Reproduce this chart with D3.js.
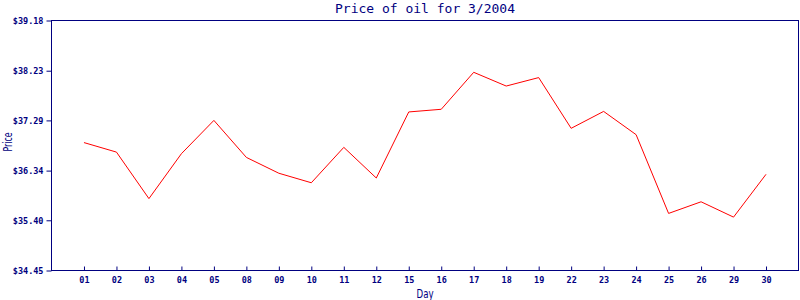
<!DOCTYPE html>
<html lang="en">
<head>
    <meta charset="UTF-8">
    <title>Price of oil</title>
    <script src="https://d3js.org/d3.v7.min.js"></script>
    <style>
        body { margin: 0; background: #fff; }
        svg { display: block; }
    </style>
</head>
<body>
<svg id="viz"></svg>

<script>
    // trading days of 3/2004 and closing price
    var days = ['01', '02', '03', '04', '05', '08', '09', '10', '11', '12', '15',
        '16', '17', '18', '19', '22', '23', '24', '25', '26', '29', '30'];
    var prices = [36.87, 36.69, 35.81, 36.66, 37.29, 36.59, 36.29, 36.11, 36.78, 36.20, 37.45,
        37.50, 38.20, 37.94, 38.10, 37.14, 37.46, 37.02, 35.53, 35.75, 35.46, 36.27];
    var yTicks = [34.45, 35.40, 36.34, 37.29, 38.23, 39.18];

    var width = 800, height = 300;
    // plot box (note: "top" is reserved on window, so use other names)
    var plotL = 51.5, plotR = 798.5, plotT = 20.5, plotB = 270.5;
    var navy = '#000080';

    var svg = d3.select('#viz')
        .attr('width', width)
        .attr('height', height);

    var x = d3.scalePoint()
        .domain(days)
        .range([plotL, plotR])
        .padding(1);

    var y = d3.scaleLinear()
        .domain([yTicks[0], yTicks[yTicks.length - 1]])
        .range([plotB, plotT]);

    // frame
    svg.append('rect')
        .attr('x', plotL)
        .attr('y', plotT)
        .attr('width', plotR - plotL)
        .attr('height', plotB - plotT)
        .attr('fill', 'none')
        .attr('stroke', navy)
        .attr('stroke-width', 1);

    // y axis, ticks outward
    var yAxis = svg.append('g')
        .attr('transform', 'translate(' + plotL + ',0)')
        .call(d3.axisLeft(y).tickValues(yTicks).tickSize(5).tickPadding(3)
            .tickFormat(function (d) { return '$' + d.toFixed(2); }));

    // x axis, ticks inward
    var xAxis = svg.append('g')
        .attr('transform', 'translate(0,' + plotB + ')')
        .call(d3.axisBottom(x).tickSize(-4).tickPadding(6));

    [yAxis, xAxis].forEach(function (g) {
        g.select('.domain').remove();
        g.selectAll('line').attr('stroke', navy);
        g.selectAll('text')
            .attr('fill', navy)
            .style('font-family', '"DejaVu Sans Mono", monospace')
            .style('font-size', '8.5px')
            .style('font-weight', 'bold');
    });
    xAxis.selectAll('text').attr('dy', '0.71em');

    var line = d3.line()
        .x(function (d, i) { return x(days[i]); })
        .y(function (d) { return y(d); });

    svg.append('path')
        .datum(prices)
        .attr('d', line)
        .attr('fill', 'none')
        .attr('stroke', '#ff0000')
        .attr('stroke-width', 1);

    svg.append('text')
        .attr('x', (plotL + plotR) / 2)
        .attr('y', 13)
        .attr('text-anchor', 'middle')
        .attr('fill', navy)
        .style('font-family', '"DejaVu Sans Mono", monospace')
        .style('font-size', '13px')
        .text('Price of oil for 3/2004');

    svg.append('text')
        .attr('x', (plotL + plotR) / 2)
        .attr('y', 298)
        .attr('text-anchor', 'middle')
        .attr('fill', navy)
        .attr('textLength', 17)
        .attr('lengthAdjust', 'spacingAndGlyphs')
        .style('font-family', '"DejaVu Sans", sans-serif')
        .style('font-size', '12px')
        .text('Day');

    svg.append('text')
        .attr('transform', 'translate(12,142) rotate(-90)')
        .attr('text-anchor', 'middle')
        .attr('fill', navy)
        .attr('textLength', 19)
        .attr('lengthAdjust', 'spacingAndGlyphs')
        .style('font-family', '"DejaVu Sans", sans-serif')
        .style('font-size', '12px')
        .text('Price');
</script>
</body>
</html>
